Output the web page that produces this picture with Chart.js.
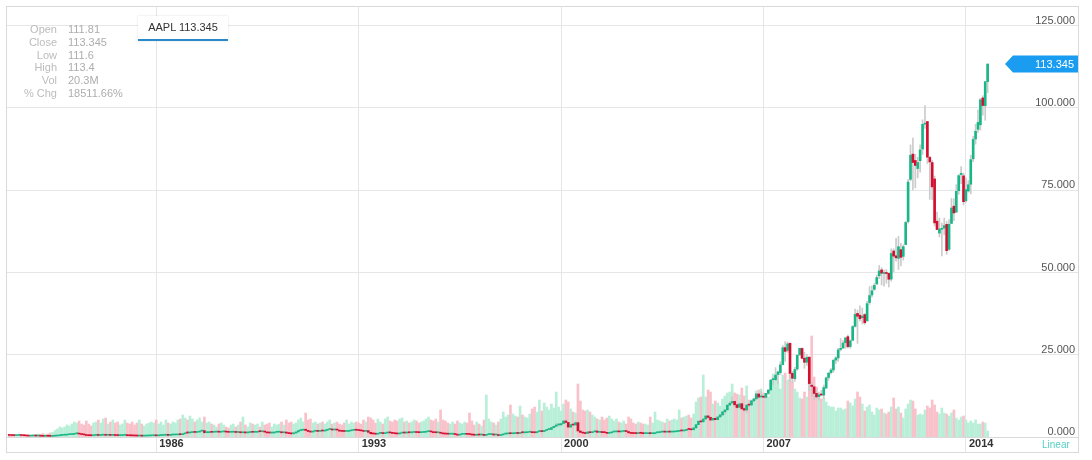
<!DOCTYPE html>
<html>
<head>
<meta charset="utf-8">
<title>AAPL monthly</title>
<script src="https://cdn.jsdelivr.net/npm/chart.js@4.4.1/dist/chart.umd.min.js"></script>
<style>
    html, body { margin: 0; padding: 0; background: #fff; }
    #wrap { position: relative; width: 1092px; height: 460px; font-family: "Liberation Sans", Arial, sans-serif; }
    #chart { position: absolute; left: 0; top: 0; }
    #info { position: absolute; left: 0; top: 23px; font-size: 11px; line-height: 12.8px; color: #adadad; }
    #info .k { display: inline-block; width: 57px; text-align: right; color: #bcbcbc; }
    #info .v { margin-left: 11px; }
    #legend { position: absolute; left: 138px; top: 16px; width: 90px; height: 23px; background: #fff;
              box-shadow: 0 0 2px rgba(0, 0, 0, 0.12); border-bottom: 2px solid #2a89c9;
              font-size: 11px; color: #333; text-align: center; line-height: 23px; }
    #scaleType { position: absolute; left: 1042px; top: 439px; font-size: 10px; color: #55cfc3; }
</style>
</head>
<body>
<div id="wrap">
    <canvas id="chart" width="1092" height="460"></canvas>
    <div id="info"></div>
    <div id="legend"></div>
    <div id="scaleType">Linear</div>
</div>
<script>
// Monthly AAPL candles, Jan 1981 .. Nov 2014 (split adjusted)
const symbol = 'AAPL';
const firstYear = 1981;
const tickYears = [1986, 1993, 2000, 2007, 2014];
const priceTicks = [0, 25, 50, 75, 100, 125];

const infoLabels = ['Open', 'Close', 'Low', 'High', 'Vol', '% Chg'];
const infoValues = ['111.81', '113.345', '111.6', '113.4', '20.3M', '18511.66%'];

const openP = [
    0.61,0.48,0.45,0.43,0.48,0.52,0.46,0.41,0.34,0.29,0.32,0.34, // 1981
    0.29,0.29,0.25,0.21,0.25,0.23,0.21,0.25,0.30,0.38,0.50,0.55,
    0.57,0.71,0.75,0.80,0.98,1.07,0.89,0.75,0.64,0.45,0.41,0.39,
    0.50,0.52,0.48,0.55,0.59,0.52,0.54,0.50,0.54,0.45,0.43,0.45,
    0.52,0.54,0.41,0.38,0.36,0.32,0.30,0.30,0.27,0.29,0.32,0.36, // 1985
    0.39,0.41,0.36,0.46,0.48,0.54,0.64,0.50,0.61,0.63,0.66,0.75,
    0.71,0.96,1.25,1.23,1.36,1.43,1.39,1.50,1.79,1.93,1.32,1.32,
    1.50,1.43,1.50,1.50,1.46,1.57,1.64,1.50,1.43,1.46,1.46,1.39,
    1.43,1.29,1.29,1.25,1.36,1.61,1.43,1.43,1.64,1.61,1.64,1.50,
    1.25,1.21,1.21,1.43,1.46,1.50,1.29,1.50,1.18,1.04,0.96,1.21, // 1990
    1.54,1.96,2.07,2.36,2.00,1.68,1.50,1.75,1.89,1.71,1.86,1.82,
    2.00,2.29,2.29,2.14,2.18,2.11,1.79,1.71,1.68,1.71,1.89,2.04,
    2.14,2.07,1.96,1.86,1.71,1.93,1.43,1.00,0.93,0.86,1.11,1.11,
    1.04,1.21,1.32,1.25,1.11,1.00,0.93,1.18,1.25,1.21,1.46,1.29,
    1.39,1.43,1.36,1.32,1.39,1.46,1.64,1.71,1.54,1.32,1.29,1.39, // 1995
    1.14,0.96,0.89,0.86,0.86,0.93,0.75,0.57,0.82,0.82,0.86,0.82,
    0.75,0.61,0.54,0.68,0.61,0.61,0.50,0.75,0.75,0.79,0.61,0.61,
    0.46,0.64,0.89,0.96,1.04,1.00,1.04,1.21,1.07,1.36,1.29,1.32,
    1.46,1.46,1.32,1.29,1.64,1.79,1.64,2.00,2.25,2.29,2.86,3.25,
    3.67,3.68,4.07,4.86,4.43,3.00,3.74,3.64,4.36,1.84,1.40,1.18, // 2000
    1.06,1.55,1.31,1.58,1.82,1.42,1.66,1.34,1.32,1.11,1.26,1.53,
    1.56,1.76,1.55,1.69,1.73,1.66,1.27,1.09,1.06,1.04,1.15,1.13,
    1.02,1.03,1.07,1.01,1.02,1.29,1.36,1.50,1.62,1.48,1.64,1.49,
    1.53,1.61,1.71,1.93,1.85,2.00,2.32,2.30,2.19,2.77,3.75,4.80,
    4.60,5.47,6.42,5.99,5.17,5.68,5.27,6.09,6.70,7.66,8.25,9.69, // 2005
    10.33,10.81,9.82,9.03,10.12,8.63,8.20,9.73,9.71,10.98,11.58,13.08,
    12.17,12.26,12.06,13.27,14.28,17.42,17.38,18.97,19.56,22.02,27.17,26.31,
    28.47,19.34,17.72,20.67,24.97,26.92,23.94,22.71,24.23,15.76,15.26,13.26,
    12.27,12.94,12.72,14.88,18.08,19.57,20.38,23.39,24.03,26.60,27.06,28.66,
    30.50,27.49,29.39,33.64,37.56,37.02,36.26,37.21,35.30,40.88,43.17,44.89, // 2010
    46.50,49.00,50.78,49.70,50.00,49.73,47.99,56.53,55.07,54.30,56.94,54.90,
    58.49,65.47,78.31,85.98,84.06,81.60,83.97,87.53,95.09,95.88,84.98,83.41,
    78.43,65.59,61.98,63.13,63.50,64.63,57.05,64.91,70.16,68.35,74.86,79.76,
    79.38,71.80,74.77,76.82,84.57,90.57,93.52,94.90,103.06,100.69,108.01
];

const highP = [
    0.62,0.50,0.47,0.50,0.55,0.53,0.47,0.42,0.35,0.34,0.36,0.35, // 1981
    0.31,0.30,0.26,0.26,0.26,0.24,0.26,0.31,0.40,0.52,0.58,0.61,
    0.74,0.78,0.84,1.01,1.13,1.10,0.91,0.77,0.66,0.47,0.43,0.52,
    0.57,0.53,0.56,0.62,0.60,0.56,0.55,0.56,0.55,0.47,0.47,0.54,
    0.56,0.55,0.42,0.39,0.37,0.33,0.32,0.31,0.29,0.33,0.37,0.40, // 1985
    0.43,0.42,0.47,0.51,0.56,0.66,0.65,0.62,0.66,0.68,0.78,0.77,
    0.99,1.30,1.33,1.45,1.47,1.49,1.55,1.84,2.11,2.00,1.45,1.56,
    1.56,1.55,1.60,1.55,1.59,1.70,1.68,1.53,1.51,1.56,1.48,1.48,
    1.45,1.34,1.33,1.38,1.65,1.63,1.52,1.68,1.80,1.71,1.66,1.52,
    1.30,1.25,1.46,1.53,1.58,1.53,1.55,1.53,1.20,1.07,1.25,1.60, // 1990
    1.99,2.18,2.46,2.45,2.05,1.72,1.78,1.95,1.92,1.92,1.94,2.04,
    2.40,2.45,2.33,2.24,2.25,2.15,1.85,1.75,1.78,1.93,2.10,2.17,
    2.20,2.12,2.00,1.90,1.97,1.98,1.45,1.05,0.97,1.14,1.20,1.15,
    1.26,1.36,1.34,1.27,1.12,1.02,1.19,1.30,1.29,1.49,1.47,1.42,
    1.48,1.45,1.39,1.42,1.50,1.69,1.80,1.74,1.57,1.40,1.48,1.43, // 1995
    1.16,0.99,0.92,0.91,1.01,0.95,0.77,0.84,0.86,0.90,0.89,0.85,
    0.78,0.63,0.70,0.70,0.63,0.62,0.78,0.85,0.82,0.81,0.66,0.63,
    0.67,0.91,0.99,1.09,1.08,1.07,1.25,1.24,1.38,1.40,1.36,1.50,
    1.60,1.48,1.35,1.70,1.96,1.82,2.07,2.33,2.47,2.87,3.43,4.25,
    4.09,4.26,5.13,5.39,4.43,3.86,4.20,4.59,4.61,1.93,1.63,1.21, // 2000
    1.59,1.52,1.67,1.91,1.86,1.69,1.81,1.39,1.37,1.32,1.56,1.64,
    1.81,1.77,1.74,1.83,1.76,1.71,1.28,1.14,1.09,1.16,1.21,1.17,
    1.08,1.11,1.09,1.04,1.37,1.44,1.56,1.68,1.66,1.71,1.68,1.56,
    1.66,1.74,1.98,2.03,2.03,2.35,2.31,2.33,2.80,3.76,4.80,4.82,
    5.56,6.45,6.50,6.06,5.86,5.86,6.27,6.90,7.71,8.29,9.76,10.77, // 2005
    12.18,10.98,10.04,10.43,10.34,8.97,9.83,10.08,11.09,11.86,13.24,13.22,
    13.90,13.00,13.30,14.39,17.45,18.30,21.09,20.00,22.89,27.80,28.99,28.87,
    28.60,19.93,21.20,25.00,27.04,27.09,25.76,25.10,24.55,16.67,15.70,14.56,
    13.67,14.19,15.80,18.21,19.68,20.84,23.53,24.43,26.97,29.95,29.31,30.31,
    30.97,29.51,33.86,38.91,38.58,39.85,39.19,37.54,41.20,45.71,45.96,46.67, // 2010
    49.20,52.13,51.44,50.72,50.87,49.85,57.19,57.20,60.41,60.96,58.85,58.44,
    65.51,78.32,88.78,90.89,85.94,85.06,88.78,96.40,100.72,95.96,85.30,84.06,
    79.29,68.40,66.54,65.00,66.54,65.49,66.12,72.50,72.50,76.71,79.76,82.16,
    80.18,78.74,77.94,85.63,91.42,95.05,99.44,102.90,103.74,108.04,113.45
];

const lowP = [
    0.46,0.43,0.40,0.42,0.47,0.45,0.40,0.33,0.27,0.28,0.31,0.28, // 1981
    0.27,0.24,0.20,0.20,0.22,0.20,0.20,0.24,0.29,0.37,0.48,0.52,
    0.55,0.68,0.72,0.78,0.95,0.86,0.72,0.62,0.42,0.39,0.37,0.38,
    0.46,0.46,0.46,0.53,0.50,0.50,0.48,0.48,0.44,0.41,0.41,0.44,
    0.49,0.40,0.37,0.35,0.30,0.26,0.28,0.26,0.26,0.28,0.31,0.35, // 1985
    0.38,0.35,0.35,0.44,0.47,0.52,0.47,0.49,0.59,0.61,0.65,0.70,
    0.70,0.94,1.18,1.19,1.30,1.33,1.35,1.47,1.70,1.01,1.23,1.29,
    1.36,1.39,1.44,1.41,1.40,1.54,1.47,1.37,1.36,1.41,1.34,1.35,
    1.25,1.25,1.20,1.22,1.35,1.38,1.38,1.41,1.58,1.54,1.46,1.18,
    1.14,1.16,1.20,1.37,1.41,1.27,1.27,1.15,1.00,0.86,0.95,1.19, // 1990
    1.52,1.88,2.01,1.93,1.61,1.40,1.48,1.69,1.63,1.68,1.76,1.73,
    1.97,2.20,2.10,2.02,2.05,1.72,1.57,1.63,1.64,1.68,1.84,1.99,
    1.98,1.90,1.78,1.65,1.68,1.40,0.96,0.86,0.81,0.84,1.02,1.00,
    1.03,1.18,1.20,1.07,0.94,0.88,0.91,1.14,1.16,1.18,1.26,1.26,
    1.35,1.33,1.29,1.28,1.37,1.42,1.60,1.51,1.30,1.22,1.26,1.11, // 1995
    0.90,0.87,0.82,0.82,0.84,0.73,0.56,0.56,0.78,0.79,0.80,0.72,
    0.59,0.52,0.53,0.59,0.58,0.49,0.48,0.68,0.71,0.58,0.57,0.44,
    0.45,0.62,0.86,0.93,0.98,0.96,1.01,1.05,1.05,1.22,1.20,1.27,
    1.36,1.28,1.21,1.21,1.56,1.56,1.60,1.90,2.18,2.25,2.76,3.16,
    3.24,3.55,4.07,3.88,2.98,2.94,3.53,3.63,1.79,1.30,1.15,0.96, // 2000
    1.02,1.30,1.25,1.55,1.41,1.40,1.31,1.29,1.04,1.07,1.26,1.50,
    1.50,1.49,1.54,1.66,1.57,1.20,1.00,1.02,1.00,0.98,1.10,1.00,
    0.99,1.01,0.99,0.93,1.02,1.27,1.34,1.46,1.46,1.47,1.45,1.45,
    1.50,1.56,1.65,1.81,1.80,1.99,2.11,2.09,2.19,2.77,3.74,4.34,
    4.52,5.25,5.68,4.89,5.10,5.21,5.20,6.02,6.60,6.95,8.22,9.55, // 2005
    10.26,9.18,8.43,8.82,8.46,7.82,7.32,9.09,9.63,10.66,11.51,11.54,
    11.90,11.80,11.67,12.90,14.25,15.91,17.36,16.27,18.99,21.98,23.00,25.67,
    16.90,16.50,16.86,20.28,24.80,23.70,20.87,21.78,14.10,12.34,11.31,11.85,
    11.17,12.60,11.72,14.78,17.22,19.20,19.68,22.31,23.00,26.14,26.81,26.94,
    27.09,27.00,29.34,33.40,28.46,35.25,34.36,34.24,35.17,40.30,42.52,44.55, // 2010
    46.40,48.16,46.20,45.87,46.72,45.60,47.35,50.18,53.44,50.90,51.99,53.77,
    58.43,65.00,77.84,75.13,75.73,78.75,80.50,85.85,93.79,83.10,72.25,72.11,
    64.13,63.01,60.80,55.01,61.46,55.55,56.69,64.89,65.79,68.24,73.75,76.97,
    70.51,71.33,74.41,73.88,83.65,89.01,92.57,93.28,97.80,96.26,104.63
];

const closeP = [
    0.48,0.45,0.43,0.48,0.52,0.46,0.41,0.34,0.29,0.32,0.34,0.29, // 1981
    0.29,0.25,0.21,0.25,0.23,0.21,0.25,0.30,0.38,0.50,0.55,0.57,
    0.71,0.75,0.80,0.98,1.07,0.89,0.75,0.64,0.45,0.41,0.39,0.50,
    0.52,0.48,0.55,0.59,0.52,0.54,0.50,0.54,0.45,0.43,0.45,0.52,
    0.54,0.41,0.38,0.36,0.32,0.30,0.30,0.27,0.29,0.32,0.36,0.39, // 1985
    0.41,0.36,0.46,0.48,0.54,0.64,0.50,0.61,0.63,0.66,0.75,0.71,
    0.96,1.25,1.23,1.36,1.43,1.39,1.50,1.79,1.93,1.32,1.32,1.50,
    1.43,1.50,1.50,1.46,1.57,1.64,1.50,1.43,1.46,1.46,1.39,1.43,
    1.29,1.29,1.25,1.36,1.61,1.43,1.43,1.64,1.61,1.64,1.50,1.25,
    1.21,1.21,1.43,1.46,1.50,1.29,1.50,1.18,1.04,0.96,1.21,1.54, // 1990
    1.96,2.07,2.36,2.00,1.68,1.50,1.75,1.89,1.71,1.86,1.82,2.00,
    2.29,2.29,2.14,2.18,2.11,1.79,1.71,1.68,1.71,1.89,2.04,2.14,
    2.07,1.96,1.86,1.71,1.93,1.43,1.00,0.93,0.86,1.11,1.11,1.04,
    1.21,1.32,1.25,1.11,1.00,0.93,1.18,1.25,1.21,1.46,1.29,1.39,
    1.43,1.36,1.32,1.39,1.46,1.64,1.71,1.54,1.32,1.29,1.39,1.14, // 1995
    0.96,0.89,0.86,0.86,0.93,0.75,0.57,0.82,0.82,0.86,0.82,0.75,
    0.61,0.54,0.68,0.61,0.61,0.50,0.75,0.75,0.79,0.61,0.61,0.46,
    0.64,0.89,0.96,1.04,1.00,1.04,1.21,1.07,1.36,1.29,1.32,1.46,
    1.46,1.32,1.29,1.64,1.79,1.64,2.00,2.25,2.29,2.86,3.25,3.67,
    3.68,4.07,4.86,4.43,3.00,3.74,3.64,4.36,1.84,1.40,1.18,1.06, // 2000
    1.55,1.31,1.58,1.82,1.42,1.66,1.34,1.32,1.11,1.26,1.53,1.56,
    1.76,1.55,1.69,1.73,1.66,1.27,1.09,1.06,1.04,1.15,1.13,1.02,
    1.03,1.07,1.01,1.02,1.29,1.36,1.50,1.62,1.48,1.64,1.49,1.53,
    1.61,1.71,1.93,1.85,2.00,2.32,2.30,2.19,2.77,3.75,4.80,4.60,
    5.49,6.41,5.95,5.15,5.68,5.26,6.09,6.70,7.66,8.23,9.69,10.27, // 2005
    10.79,9.78,8.96,10.06,8.54,8.18,9.71,9.69,11.00,11.58,13.09,12.12,
    12.25,12.09,13.27,14.26,17.31,17.43,18.82,19.78,21.92,27.14,26.03,28.30,
    19.34,17.86,20.50,24.85,26.96,23.92,22.71,24.22,16.24,15.37,13.24,12.19,
    12.88,12.76,15.02,17.98,19.40,20.35,23.34,24.03,26.48,26.93,28.56,30.10,
    27.44,29.23,33.57,37.30,36.70,35.93,36.75,34.73,40.54,43.00,44.45,46.08, // 2010
    48.47,50.46,49.79,50.02,49.69,47.95,55.78,54.98,54.47,57.83,54.60,57.86,
    65.21,77.49,85.65,83.43,82.53,83.43,87.25,95.03,95.30,85.05,83.61,76.02,
    65.07,63.06,63.24,63.25,64.25,56.65,64.65,69.60,68.11,74.67,79.44,80.15,
    71.51,75.18,76.68,84.30,90.43,92.93,95.60,102.50,100.75,108.00,113.345
];

// monthly volume, millions of shares
const volume = [
    80,60,60,50,70,60,50,60,70,150,200,250, // 1981
    300,250,350,250,300,400,450,650,800,1000,900,1000,
    1200,1100,1300,1500,1400,1600,1300,1200,1600,1300,1100,1400,
    1500,1700,1400,1800,1900,1300,1500,1700,1400,1500,1200,1300,
    1700,1400,1300,1500,1200,1400,1700,1300,1100,1300,1400,1500, // 1985
    1400,1700,1300,1500,1200,1700,1400,1300,1500,1400,1700,1800,
    2200,1900,1700,2100,1800,1500,1700,1900,1500,2000,1400,1500,
    1300,1200,1000,1300,1400,1200,1000,900,1200,1300,1000,1200,
    1500,2000,1200,1000,1400,1300,1200,1300,1000,1500,1200,1300,
    1400,1000,1300,1200,1300,1500,1200,1700,1400,1500,1300,1400, // 1990
    1700,1900,1500,2400,1700,1800,1400,1500,1300,1400,1500,1300,
    1500,1700,1300,1400,1500,1300,1200,1400,1700,1300,1500,1400,
    1500,1400,1300,1700,1500,2000,1900,1700,1400,1800,1500,1300,
    1800,2000,1600,1500,1700,1600,1800,1900,1500,1600,1400,1500,
    1700,1600,1400,1500,1600,1800,2000,1700,1600,1800,1500,2700, // 1995
    1700,1600,1400,1300,1500,1300,1600,1400,1300,1500,1400,2400,
    1600,1200,1500,1300,1100,1700,4200,1800,1500,1400,1200,1500,
    1800,2500,2000,2200,3200,2300,2100,2000,3100,2200,2000,1900,
    2300,2800,3000,2500,3700,2600,3400,3000,2700,3300,2900,4500,
    3000,2600,3300,3700,3500,2800,2500,2400,5300,3600,2700,2600, // 2000
    2700,2500,2200,2000,1800,1700,2000,1700,1900,2100,1800,1600,
    1800,1500,1400,1600,1300,2000,1800,1400,1300,1500,1400,1300,
    1300,1200,2000,1400,2500,1700,1600,1500,1400,1800,1600,1700,
    1800,1700,2700,1900,2000,2100,2200,1900,2300,3500,3900,4000,
    6200,4000,4700,4500,3300,3600,3400,3100,3800,4100,4400,4500, // 2005
    5300,4400,4300,4200,4900,4100,5100,3700,3700,3800,4600,4700,
    4800,4400,4200,4000,5600,6300,6000,5500,4800,6200,6400,5700,
    6400,5500,4800,4500,3900,3800,4500,4000,7500,10100,6000,5000,
    4300,3800,3900,3500,3100,3000,3000,2600,2900,2900,2700,2800,
    3600,3400,3100,3800,4500,4000,3300,2600,3000,3200,2500,2200, // 2010
    2900,2700,2800,2400,2300,2500,3000,3900,2800,3000,2400,1900,
    2800,3300,3700,3600,2800,2200,2300,2200,2700,3100,2900,3700,
    3200,2500,2300,2900,2400,2300,2100,2400,2700,1900,1700,2000,
    2100,1700,1400,1600,1400,1700,1300,1300,1500,1400,600
];

const UP = '#19b788';
const DOWN = '#d20f2f';
const VOL_UP = '#b9efd8';
const VOL_DOWN = '#f9c1ca';
const FONT = '"Liberation Sans", Arial, sans-serif';

document.addEventListener('DOMContentLoaded', function () {
    fillHeader();
    drawChart();
});

function fillHeader() {
    const info = document.getElementById('info');
    info.innerHTML = infoLabels.map(function (k, i) {
        return '<div><span class="k">' + k + '</span><span class="v">' + infoValues[i] + '</span></div>';
    }).join('');
    const last = closeP[closeP.length - 1];
    document.getElementById('legend').textContent = symbol + ' ' + last.toFixed(3);
}

// frame around the plot and the last-price flag on the right axis
const framePlugin = {
    id: 'frame',
    afterDraw(chart) {
        const {ctx, chartArea, scales} = chart;
        ctx.save();
        ctx.strokeStyle = '#d9d9d9';
        ctx.lineWidth = 1;
        ctx.strokeRect(chartArea.left + 0.5, chartArea.top + 0.5,
            chartArea.right - chartArea.left, scales.x.bottom - chartArea.top);

        const last = closeP[closeP.length - 1];
        const y = scales.y.getPixelForValue(last);
        const r = chartArea.right;
        const l = r - 65;
        const tip = l - 8;
        const h = 8.5;
        ctx.fillStyle = '#1a9cf0';
        ctx.beginPath();
        ctx.moveTo(tip, y);
        ctx.lineTo(l, y - h);
        ctx.lineTo(r, y - h);
        ctx.lineTo(r, y + h);
        ctx.lineTo(l, y + h);
        ctx.closePath();
        ctx.fill();
        ctx.fillStyle = '#fff';
        ctx.font = '11px ' + FONT;
        ctx.textAlign = 'right';
        ctx.textBaseline = 'middle';
        ctx.fillText(last.toFixed(3), r - 4, y + 0.5);
        ctx.restore();
    }
};

function drawChart() {
    const ctx = document.getElementById('chart').getContext('2d');
    const idx = closeP.map(function (_, i) { return i; });
    const isUp = function (i) { return closeP[i] >= openP[i]; };

    new Chart(ctx, {
        type: 'bar',
        data: {
            datasets: [{
                label: 'Body',
                data: idx.map(i => ({x: i, y: [openP[i], closeP[i]]})),
                backgroundColor: idx.map(i => isUp(i) ? UP : DOWN),
                barThickness: 2,
                minBarLength: 1,
                grouped: false,
                order: 1,
                yAxisID: 'y'
            }, {
                label: 'Wick',
                data: idx.map(i => ({x: i, y: [lowP[i], highP[i]]})),
                backgroundColor: '#cbcbcb',
                barThickness: 1,
                grouped: false,
                order: 2,
                yAxisID: 'y'
            }, {
                label: 'Volume',
                data: idx.map(i => ({x: i, y: volume[i]})),
                backgroundColor: idx.map(i => isUp(i) ? VOL_UP : VOL_DOWN),
                barThickness: 2,
                grouped: false,
                order: 3,
                yAxisID: 'vol'
            }]
        },
        options: {
            responsive: false,
            animation: false,
            layout: {
                padding: {left: 6, top: 6, right: 14, bottom: 8}
            },
            plugins: {
                legend: {display: false},
                tooltip: {enabled: false}
            },
            scales: {
                x: {
                    type: 'linear',
                    min: -1.33,
                    max: 443.5,
                    offset: false,
                    afterBuildTicks: function (s) {
                        s.ticks = tickYears.map(y => ({value: (y - firstYear) * 12 + 1}));
                    },
                    afterFit: function (s) { s.height = 15; },
                    grid: {color: '#e6e6e6', tickLength: 15, offset: false},
                    border: {color: '#d9d9d9'},
                    ticks: {
                        align: 'start',
                        labelOffset: 3,
                        padding: -15,
                        maxRotation: 0,
                        autoSkip: false,
                        color: '#333',
                        font: {family: FONT, size: 11, weight: 'bold'},
                        callback: v => String(firstYear + Math.floor(v / 12))
                    }
                },
                y: {
                    position: 'right',
                    min: 0,
                    max: 131,
                    afterBuildTicks: function (s) {
                        s.ticks = priceTicks.map(v => ({value: v}));
                    },
                    afterFit: function (s) { s.width = 0; },
                    grid: {color: '#e6e6e6', drawTicks: false},
                    border: {display: false},
                    ticks: {
                        mirror: true,
                        padding: -3,
                        labelOffset: -5,
                        color: '#555',
                        font: {family: FONT, size: 11},
                        callback: v => v.toFixed(3)
                    }
                },
                vol: {
                    display: false,
                    min: 0,
                    max: 43100
                }
            }
        },
        plugins: [framePlugin]
    });
}
</script>
</body>
</html>
